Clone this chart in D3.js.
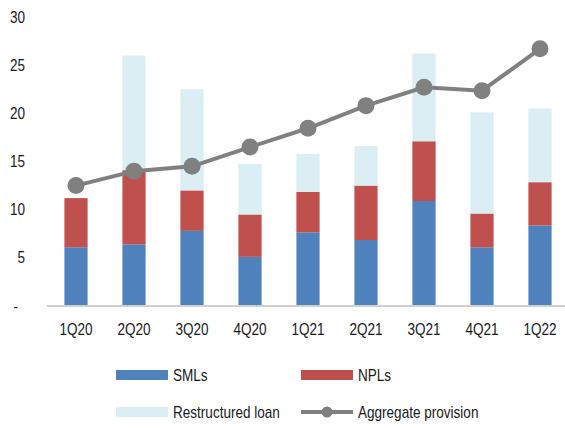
<!DOCTYPE html>
<html>
<head>
<meta charset="utf-8">
<script src="https://cdn.jsdelivr.net/npm/d3@7"></script>
<style>
    body { margin: 0; background: #fff; }
    text { font-family: "Liberation Sans Narrow", "Arial Narrow", "Liberation Sans", sans-serif; font-stretch: condensed; font-size: 16px; fill: #1a1a1a; }
</style>
</head>
<body>
<div id="chart"></div>
<script>
const quarters = ["1Q20", "2Q20", "3Q20", "4Q20", "1Q21", "2Q21", "3Q21", "4Q21", "1Q22"]
const smls = [6.1, 6.4, 7.8, 5.1, 7.65, 6.85, 10.9, 6.1, 8.35]
const npls = [5.1, 7.7, 4.2, 4.4, 4.2, 5.65, 6.2, 3.5, 4.5]
const restructured = [0, 11.9, 10.5, 5.25, 3.95, 4.1, 9.1, 10.5, 7.65]
const aggregate = [12.5, 14.0, 14.5, 16.5, 18.45, 20.8, 22.7, 22.35, 26.7]
const yTicks = [0, 5, 10, 15, 20, 25, 30]

var width = 565, height = 428
var margin = {left: 47, right: -4, top: 17, bottom: 122}
var colors = {smls: "#4f81bd", npls: "#c0504d", restructured: "#daeef3", line: "#808080"}

var svg = d3.select("#chart").append("svg")
    .attr("width", width)
    .attr("height", height)

var xScale = d3.scaleBand()
    .domain(quarters)
    .range([margin.left, width - margin.right])
    .paddingInner(0.6)
    .paddingOuter(0.3)

var yScale = d3.scaleLinear()
    .domain([0, 30])
    .range([height - margin.bottom, margin.top])

// stack the three bar series
var rows = quarters.map((q, i) => ({q: q, smls: smls[i], npls: npls[i], restructured: restructured[i]}))
var stack = d3.stack().keys(["smls", "npls", "restructured"])(rows)

svg.append("g").selectAll("g")
    .data(stack)
    .enter().append("g")
    .attr("fill", d => colors[d.key])
    .selectAll("rect")
    .data(d => d)
    .enter().append("rect")
        .attr("x", d => xScale(d.data.q))
        .attr("y", d => yScale(d[1]))
        .attr("width", xScale.bandwidth())
        .attr("height", d => yScale(d[0]) - yScale(d[1]))

// x axis line
svg.append("line")
    .attr("x1", margin.left).attr("x2", width)
    .attr("y1", yScale(0)).attr("y2", yScale(0))
    .attr("stroke", "#d0d0d0").attr("stroke-width", 2)

// y tick labels
svg.append("g").selectAll("text")
    .data(yTicks)
    .enter().append("text")
        .attr("x", d => d === 0 ? 18 : 25)
        .attr("y", d => yScale(d))
        .attr("dy", "0.35em")
        .attr("text-anchor", "end")
        .text(d => d === 0 ? "-" : d)

// x tick labels
svg.append("g").selectAll("text")
    .data(quarters)
    .enter().append("text")
        .attr("x", d => xScale(d) + xScale.bandwidth() / 2)
        .attr("y", yScale(0) + 29)
        .attr("text-anchor", "middle")
        .text(d => d)

// aggregate provision line
var line = d3.line()
    .x((d, i) => xScale(quarters[i]) + xScale.bandwidth() / 2)
    .y(d => yScale(d))

svg.append("path")
    .datum(aggregate)
    .attr("d", line)
    .attr("fill", "none")
    .attr("stroke", colors.line)
    .attr("stroke-width", 4)

svg.append("g").selectAll("circle")
    .data(aggregate)
    .enter().append("circle")
        .attr("cx", (d, i) => xScale(quarters[i]) + xScale.bandwidth() / 2)
        .attr("cy", d => yScale(d))
        .attr("r", 8.5)
        .attr("fill", colors.line)

// legend
var legend = svg.append("g")
var items = [
    {name: "SMLs", key: "smls", x: 116, y: 375},
    {name: "NPLs", key: "npls", x: 301, y: 375},
    {name: "Restructured loan", key: "restructured", x: 116, y: 412},
    {name: "Aggregate provision", key: "line", x: 301, y: 412}
]
items.forEach(function(it) {
    if (it.key === "line") {
        legend.append("line")
            .attr("x1", it.x).attr("x2", it.x + 52)
            .attr("y1", it.y).attr("y2", it.y)
            .attr("stroke", colors.line).attr("stroke-width", 4)
        legend.append("circle")
            .attr("cx", it.x + 26).attr("cy", it.y).attr("r", 5.5)
            .attr("fill", colors.line)
    } else {
        legend.append("rect")
            .attr("x", it.x).attr("y", it.y - 5)
            .attr("width", 52).attr("height", 10)
            .attr("fill", colors[it.key])
    }
    legend.append("text")
        .attr("x", it.x + 57)
        .attr("y", it.y)
        .attr("dy", "0.35em")
        .attr("class", "legend-label")
        .text(it.name)
})

// if no narrow font was found, squeeze the text horizontally
var probe = legend.selectAll("text").filter(d => false)
var w = legend.selectAll("text").nodes()[2].getComputedTextLength()
if (w > 112) {
    var sx = 107 / w
    svg.selectAll("text").each(function() {
        var t = d3.select(this)
        var x = +t.attr("x")
        t.attr("transform", "translate(" + x + ",0) scale(" + sx + ",1) translate(" + (-x) + ",0)")
    })
}
</script>
</body>
</html>
